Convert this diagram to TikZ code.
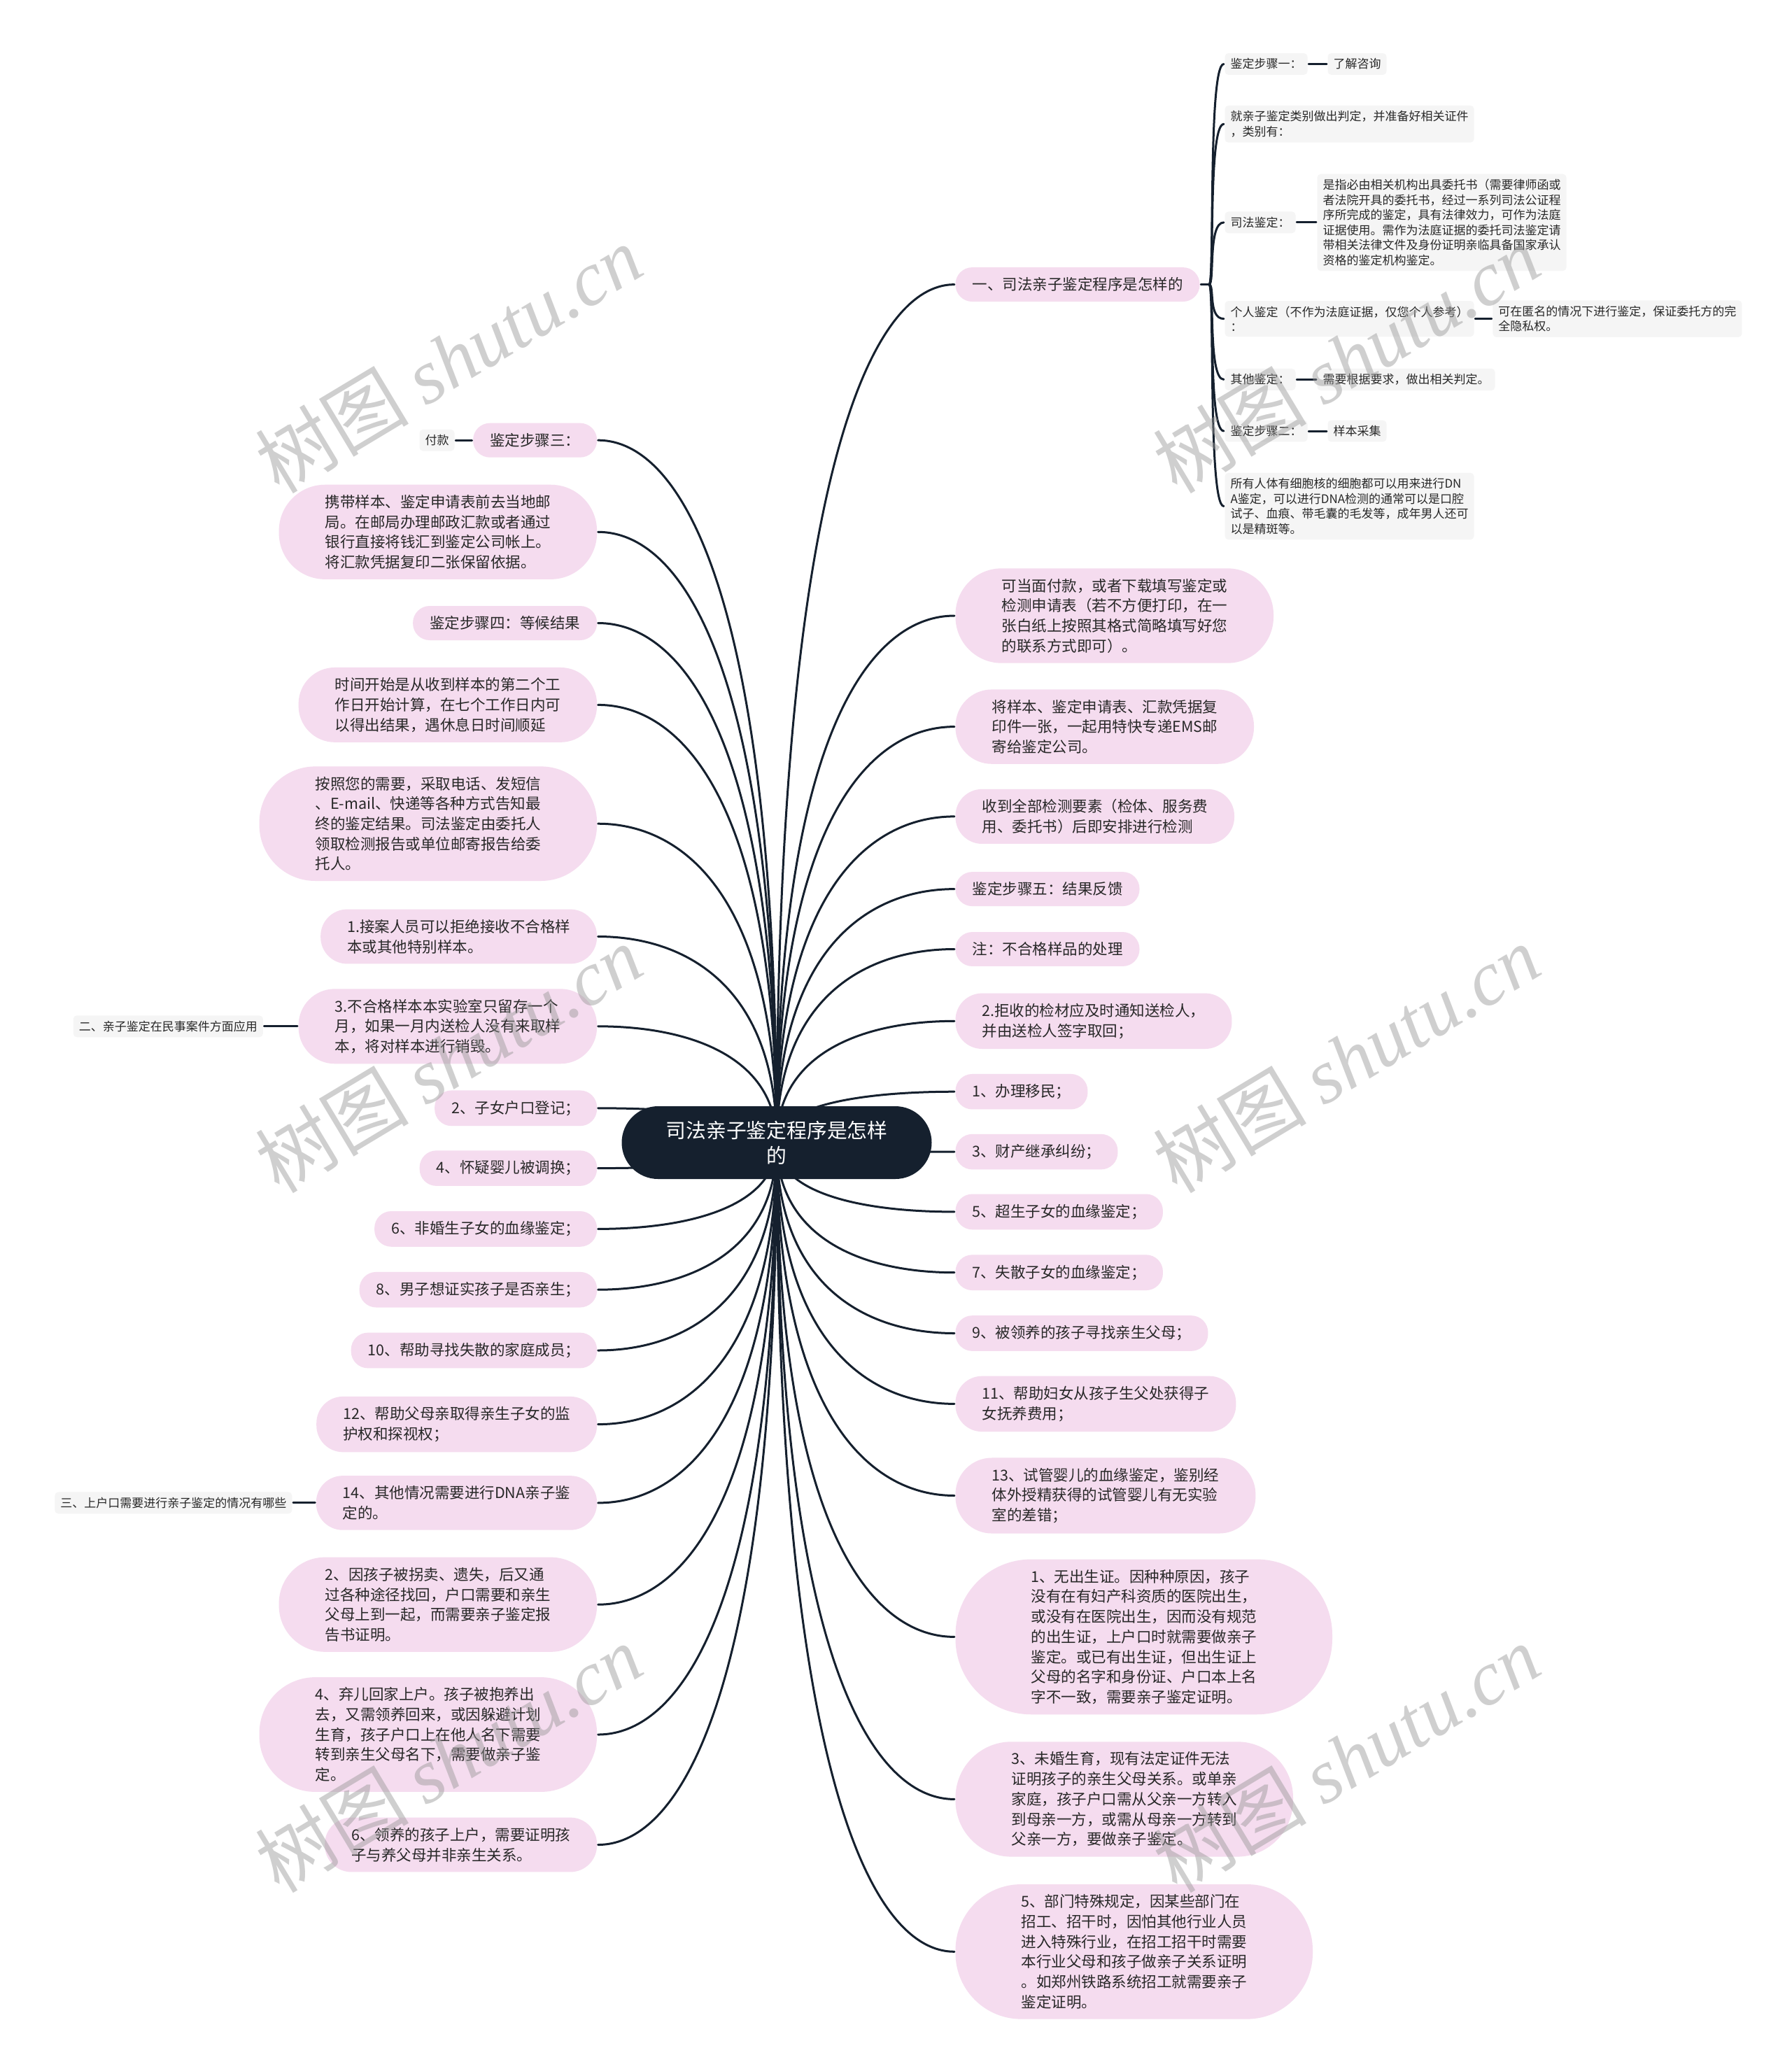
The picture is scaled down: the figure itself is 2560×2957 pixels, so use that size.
\documentclass[tikz,border=0pt]{standalone}
\usepackage{fontspec}
\setmainfont{Noto Sans CJK SC}
\newfontfamily\wmfont{Liberation Serif}
\usetikzlibrary{calc,shapes.misc,backgrounds}
\definecolor{rootfill}{RGB}{21,32,46}
\definecolor{pinkfill}{RGB}{245,220,239}
\definecolor{grayfill}{RGB}{245,245,245}
\definecolor{inktext}{RGB}{40,40,40}
\definecolor{wmgray}{RGB}{150,150,150}

\begin{document}
\begin{tikzpicture}[x=1pt, y=-1pt, line width=3pt, line cap=round, line join=round,
  rootnode/.style={rounded rectangle, fill=rootfill, text=white, align=center,
    minimum width=443pt, minimum height=104pt, inner sep=0pt,
    font=\fontsize{28.8}{36}\selectfont},
  pinknode/.style={rectangle, fill=pinkfill, text=inktext, align=left,
    inner xsep=#1, rounded corners=#1, inner ysep=14.5pt,
    font=\fontsize{21.5}{28.7}\selectfont},
  pinkR/.style={pinknode=#1, anchor=west},
  pinkL/.style={pinknode=#1, anchor=east},
  graynode/.style={rectangle, rounded corners=5pt, fill=grayfill, text=inktext, align=left,
    inner xsep=8pt, inner ysep=7.5pt, font=\fontsize{17}{21.5}\selectfont},
  grayR/.style={graynode, anchor=west},
  grayL/.style={graynode, anchor=east},
  link/.style={draw=rootfill, line width=3pt, line cap=round},
  wmark/.style={text=wmgray, opacity=0.45, rotate=31, inner sep=0pt,
    font=\fontsize{110}{110}\selectfont},
  branch/.style={to path={.. controls ($(\tikztostart)!0.75!(\tikztostart |- \tikztotarget)$)
    and ($(\tikztostart |- \tikztotarget)!0.5!(\tikztotarget)$) .. (\tikztotarget)}},
  bracket/.style={to path={.. controls ($(\tikztostart)+(8,0)$)
    and ($(\tikztostart |- \tikztotarget)+(-2,0)$) .. (\tikztotarget)}}]

  %% ════ 中心主题 ════
  \node[rootnode] (root) at (1110,1633) {司法亲子鉴定程序是怎样\\的};

  %% ════ 右侧一级分支（参数 = 圆角半径，按行数）════
  \node[pinkR=24pt] (r1) at (1364,406.6) {一、司法亲子鉴定程序是怎样的};
  \node[pinkR=66pt] (r2) at (1364,880) {可当面付款，或者下载填写鉴定或\\检测申请表（若不方便打印，在一\\张白纸上按照其格式简略填写好您\\的联系方式即可）。};
  \node[pinkR=52pt] (r3) at (1364,1038.6) {将样本、鉴定申请表、汇款凭据复\\印件一张，一起用特快专递EMS邮\\寄给鉴定公司。};
  \node[pinkR=38pt] (r4) at (1364,1166.9) {收到全部检测要素（检体、服务费\\用、委托书）后即安排进行检测};
  \node[pinkR=24pt] (r5) at (1364,1270.6) {鉴定步骤五：结果反馈};
  \node[pinkR=24pt] (r6) at (1364,1356.5) {注：不合格样品的处理};
  \node[pinkR=38pt] (r7) at (1364,1459.3) {2.拒收的检材应及时通知送检人，\\并由送检人签字取回；};
  \node[pinkR=24pt] (r8) at (1364,1560.2) {1、办理移民；};
  \node[pinkR=24pt] (r9) at (1364,1646.1) {3、财产继承纠纷；};
  \node[pinkR=24pt] (r10) at (1364,1731.9) {5、超生子女的血缘鉴定；};
  \node[pinkR=24pt] (r11) at (1364,1818.7) {7、失散子女的血缘鉴定；};
  \node[pinkR=24pt] (r12) at (1364,1905.5) {9、被领养的孩子寻找亲生父母；};
  \node[pinkR=38pt] (r13) at (1364,2006.4) {11、帮助妇女从孩子生父处获得子\\女抚养费用；};
  \node[pinkR=52pt] (r14) at (1364,2137.5) {13、试管婴儿的血缘鉴定，鉴别经\\体外授精获得的试管婴儿有无实验\\室的差错；};
  \node[pinkR=108pt] (r15) at (1364,2339.4) {1、无出生证。因种种原因，孩子\\没有在有妇产科资质的医院出生，\\或没有在医院出生，因而没有规范\\的出生证，上户口时就需要做亲子\\鉴定。或已有出生证，但出生证上\\父母的名字和身份证、户口本上名\\字不一致，需要亲子鉴定证明。};
  \node[pinkR=80pt] (r16) at (1364,2571.4) {3、未婚生育，现有法定证件无法\\证明孩子的亲生父母关系。或单亲\\家庭，孩子户口需从父亲一方转入\\到母亲一方，或需从母亲一方转到\\父亲一方，要做亲子鉴定。};
  \node[pinkR=94pt] (r17) at (1364,2789.3) {5、部门特殊规定，因某些部门在\\招工、招干时，因怕其他行业人员\\进入特殊行业，在招工招干时需要\\本行业父母和孩子做亲子关系证明\\。如郑州铁路系统招工就需要亲子\\鉴定证明。};

  %% ════ 左侧一级分支 ════
  \node[pinkL=24pt] (l1) at (854.6,629.2) {鉴定步骤三：};
  \node[pinkL=66pt] (l2) at (854.6,760.3) {携带样本、鉴定申请表前去当地邮\\局。在邮局办理邮政汇款或者通过\\银行直接将钱汇到鉴定公司帐上。\\将汇款凭据复印二张保留依据。};
  \node[pinkL=24pt] (l3) at (854.6,890.5) {鉴定步骤四：等候结果};
  \node[pinkL=52pt] (l4) at (854.6,1007.4) {时间开始是从收到样本的第二个工\\作日开始计算，在七个工作日内可\\以得出结果，遇休息日时间顺延};
  \node[pinkL=80pt] (l5) at (854.6,1177.2) {按照您的需要，采取电话、发短信\\、E-mail、快递等各种方式告知最\\终的鉴定结果。司法鉴定由委托人\\领取检测报告或单位邮寄报告给委\\托人。};
  \node[pinkL=38pt] (l6) at (854.6,1338.5) {1.接案人员可以拒绝接收不合格样\\本或其他特别样本。};
  \node[pinkL=52pt] (l7) at (854.6,1466.8) {3.不合格样本本实验室只留存一个\\月，如果一月内送检人没有来取样\\本，将对样本进行销毁。};
  \node[pinkL=24pt] (l8) at (854.6,1583.8) {2、子女户口登记；};
  \node[pinkL=24pt] (l9) at (854.6,1669.6) {4、怀疑婴儿被调换；};
  \node[pinkL=24pt] (l10) at (854.6,1756.4) {6、非婚生子女的血缘鉴定；};
  \node[pinkL=24pt] (l11) at (854.6,1843.2) {8、男子想证实孩子是否亲生；};
  \node[pinkL=24pt] (l12) at (854.6,1930) {10、帮助寻找失散的家庭成员；};
  \node[pinkL=38pt] (l13) at (854.6,2035.6) {12、帮助父母亲取得亲生子女的监\\护权和探视权；};
  \node[pinkL=38pt] (l14) at (854.6,2147.9) {14、其他情况需要进行DNA亲子鉴\\定的。};
  \node[pinkL=66pt] (l15) at (854.6,2293.2) {2、因孩子被拐卖、遗失，后又通\\过各种途径找回，户口需要和亲生\\父母上到一起，而需要亲子鉴定报\\告书证明。};
  \node[pinkL=80pt] (l16) at (854.6,2479) {4、弃儿回家上户。孩子被抱养出\\去，又需领养回来，或因躲避计划\\生育，孩子户口上在他人名下需要\\转到亲生父母名下，需要做亲子鉴\\定。};
  \node[pinkL=38pt] (l17) at (854.6,2636.5) {6、领养的孩子上户，需要证明孩\\子与养父母并非亲生关系。};

  %% ════ 左侧末端小标签 ════
  \node[grayL] (pay) at (651,629.2) {付款};
  \node[grayL] (civil) at (377.3,1466.8) {二、亲子鉴定在民事案件方面应用};
  \node[grayL] (hukou) at (418.8,2147.9) {三、上户口需要进行亲子鉴定的情况有哪些};

  %% ════ 右上：步骤说明（灰色）════
  \node[grayR] (g1) at (1749,91.5) {鉴定步骤一：};
  \node[grayR] (g1c) at (1896,91.5) {了解咨询};
  \node[grayR] (g2) at (1749,177.3) {就亲子鉴定类别做出判定，并准备好相关证件\\，类别有：};
  \node[grayR] (g3) at (1749,317.9) {司法鉴定：};
  \node[grayR] (g3c) at (1881,317.9) {是指必由相关机构出具委托书（需要律师函或\\者法院开具的委托书，经过一系列司法公证程\\序所完成的鉴定，具有法律效力，可作为法庭\\证据使用。需作为法庭证据的委托司法鉴定请\\带相关法律文件及身份证明亲临具备国家承认\\资格的鉴定机构鉴定。};
  \node[grayR] (g4) at (1749,455.6) {个人鉴定（不作为法庭证据，仅您个人参考）\\：};
  \node[grayR] (g4c) at (2131.9,455.6) {可在匿名的情况下进行鉴定，保证委托方的完\\全隐私权。};
  \node[grayR] (g5) at (1749,542.4) {其他鉴定：};
  \node[grayR] (g5c) at (1881,542.4) {需要根据要求，做出相关判定。};
  \node[grayR] (g6) at (1749,616) {鉴定步骤二：};
  \node[grayR] (g6c) at (1896,616) {样本采集};
  \node[grayR] (g7) at (1749,723.5) {所有人体有细胞核的细胞都可以用来进行DN\\A鉴定，可以进行DNA检测的通常可以是口腔\\试子、血痕、带毛囊的毛发等，成年男人还可\\以是精斑等。};

  %% ════ 连线（放在底层，被节点盖住）════
  \begin{pgfonlayer}{background}
  \fill[white] (0,0) rectangle (2560,2957);
  \draw[link] (root.center) to[branch] (r1.west);
  \draw[link] (root.center) to[branch] (r2.west);
  \draw[link] (root.center) to[branch] (r3.west);
  \draw[link] (root.center) to[branch] (r4.west);
  \draw[link] (root.center) to[branch] (r5.west);
  \draw[link] (root.center) to[branch] (r6.west);
  \draw[link] (root.center) to[branch] (r7.west);
  \draw[link] (root.center) to[branch] (r8.west);
  \draw[link] (root.center) to[branch] (r9.west);
  \draw[link] (root.center) to[branch] (r10.west);
  \draw[link] (root.center) to[branch] (r11.west);
  \draw[link] (root.center) to[branch] (r12.west);
  \draw[link] (root.center) to[branch] (r13.west);
  \draw[link] (root.center) to[branch] (r14.west);
  \draw[link] (root.center) to[branch] (r15.west);
  \draw[link] (root.center) to[branch] (r16.west);
  \draw[link] (root.center) to[branch] (r17.west);
  \draw[link] (root.center) to[branch] (l1.east);
  \draw[link] (root.center) to[branch] (l2.east);
  \draw[link] (root.center) to[branch] (l3.east);
  \draw[link] (root.center) to[branch] (l4.east);
  \draw[link] (root.center) to[branch] (l5.east);
  \draw[link] (root.center) to[branch] (l6.east);
  \draw[link] (root.center) to[branch] (l7.east);
  \draw[link] (root.center) to[branch] (l8.east);
  \draw[link] (root.center) to[branch] (l9.east);
  \draw[link] (root.center) to[branch] (l10.east);
  \draw[link] (root.center) to[branch] (l11.east);
  \draw[link] (root.center) to[branch] (l12.east);
  \draw[link] (root.center) to[branch] (l13.east);
  \draw[link] (root.center) to[branch] (l14.east);
  \draw[link] (root.center) to[branch] (l15.east);
  \draw[link] (root.center) to[branch] (l16.east);
  \draw[link] (root.center) to[branch] (l17.east);

  % 二级：短横线
  \draw[link] (l1.west) -- (pay.east);
  \draw[link] (l7.west) -- (civil.east);
  \draw[link] (l14.west) -- (hukou.east);
  \draw[link] (g1.east) -- (g1c.west);
  \draw[link] (g3.east) -- (g3c.west);
  \draw[link] (g4.east) -- (g4c.west);
  \draw[link] (g5.east) -- (g5c.west);
  \draw[link] (g6.east) -- (g6c.west);

  % 一、… 的括号式分叉
  \coordinate (rb) at ($(r1.east)+(12,0)$);
  \draw[link] (r1.east) -- (rb);
  \draw[link] (rb) to[bracket] (g1.west);
  \draw[link] (rb) to[bracket] (g2.west);
  \draw[link] (rb) to[bracket] (g3.west);
  \draw[link] (rb) to[bracket] (g4.west);
  \draw[link] (rb) to[bracket] (g5.west);
  \draw[link] (rb) to[bracket] (g6.west);
  \draw[link] (rb) to[bracket] (g7.west);
  \end{pgfonlayer}

  %% ════ 水印 ════
  \node[wmark] (wm1) at (641,513) {树图 {\wmfont\itshape shutu.cn}};
  \node[wmark] (wm2) at (1924,513) {树图 {\wmfont\itshape shutu.cn}};
  \node[wmark] (wm3) at (641,1513) {树图 {\wmfont\itshape shutu.cn}};
  \node[wmark] (wm4) at (1924,1513) {树图 {\wmfont\itshape shutu.cn}};
  \node[wmark] (wm5) at (641,2513) {树图 {\wmfont\itshape shutu.cn}};
  \node[wmark] (wm6) at (1924,2513) {树图 {\wmfont\itshape shutu.cn}};

  % 固定画布
  \pgfresetboundingbox
  \path[use as bounding box] (0,0) rectangle (2560,2957);
\end{tikzpicture}
\end{document}
